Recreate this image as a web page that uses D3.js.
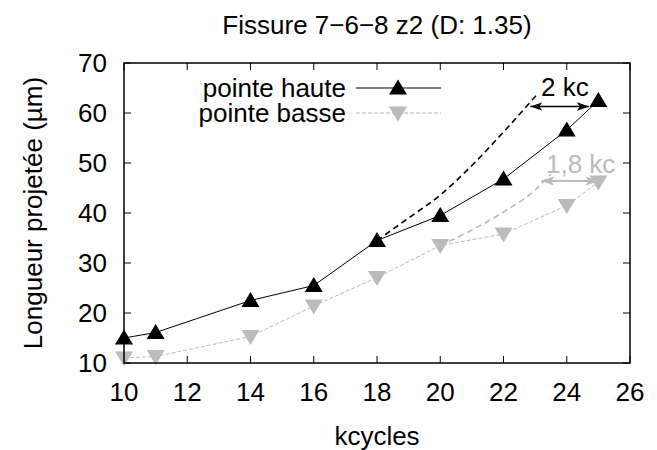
<!DOCTYPE html>
<html>
<head>
<meta charset="utf-8">
<script src="https://cdn.jsdelivr.net/npm/d3@7"></script>
<style>
  body { margin: 0; background: #fff; }
  svg { font-family: "Liberation Sans", Arial, sans-serif; }
</style>
</head>
<body>
<div id="vis"></div>
<script>
// data
const kcycles = [10, 11, 14, 16, 18, 20, 22, 24, 25];
const hauteValues = [15.0, 16.1, 22.5, 25.5, 34.5, 39.5, 46.8, 56.6, 62.5];
const basseValues = [11.0, 11.3, 15.3, 21.4, 27.1, 33.5, 35.8, 41.5, 46.2];

// extrapolated (dashed) curves
const hauteExtraX = [18, 19, 20, 21, 22, 23.1];
const hauteExtraY = [34.5, 39.0, 43.6, 49.5, 56.2, 64.0];
const basseExtraX = [20, 21, 22, 23, 23.5];
const basseExtraY = [33.5, 36.6, 40.2, 44.6, 47.8];

// shift arrows: [x1, x2, y]
const hauteArrow = [22.85, 24.7, 61.3];
const basseArrow = [23.2, 25.0, 46.4];

const xTicks = [10, 12, 14, 16, 18, 20, 22, 24, 26];
const yTicks = [10, 20, 30, 40, 50, 60, 70];

const title = "Fissure 7\u22126\u22128 z2 (D: 1.35)";
const seriesNames = ["pointe haute", "pointe basse"];

const width = 657, height = 450;
const margin = { top: 63, right: 27, bottom: 87, left: 124 };
const fs = 26;

const svg = d3.select("#vis").append("svg")
  .attr("width", width)
  .attr("height", height);

const x = d3.scaleLinear().domain([10, 26]).range([margin.left, width - margin.right]);
const y = d3.scaleLinear().domain([10, 70]).range([height - margin.bottom, margin.top]);

const defs = svg.append("defs");
function marker(id, color, w) {
  const m = defs.append("marker")
    .attr("id", id)
    .attr("viewBox", "0 0 10 10")
    .attr("refX", 10).attr("refY", 5)
    .attr("markerWidth", w).attr("markerHeight", w)
    .attr("markerUnits", "userSpaceOnUse")
    .attr("orient", "auto-start-reverse");
  m.append("path").attr("d", "M0,1.5 L10,5 L0,8.5 L2.5,5 Z").attr("fill", color);
}
marker("arrowBlack", "#000", 12);
marker("arrowGray", "#bbbbbb", 13);

// ticks (inside, mirrored)
const tl = 7;
xTicks.forEach(t => {
  svg.append("line").attr("x1", x(t)).attr("x2", x(t))
    .attr("y1", y(10)).attr("y2", y(10) - tl).attr("stroke", "#000");
  svg.append("line").attr("x1", x(t)).attr("x2", x(t))
    .attr("y1", y(70)).attr("y2", y(70) + tl).attr("stroke", "#000");
});
yTicks.forEach(t => {
  svg.append("line").attr("x1", x(10)).attr("x2", x(10) + tl)
    .attr("y1", y(t)).attr("y2", y(t)).attr("stroke", "#000");
  svg.append("line").attr("x1", x(26)).attr("x2", x(26) - tl)
    .attr("y1", y(t)).attr("y2", y(t)).attr("stroke", "#000");
});

// tick labels
svg.append("g").selectAll("text").data(xTicks).join("text")
  .attr("x", d => x(d)).attr("y", y(10) + 38)
  .attr("text-anchor", "middle").attr("font-size", fs)
  .text(d => d);
svg.append("g").selectAll("text").data(yTicks).join("text")
  .attr("x", x(10) - 17).attr("y", d => y(d) + 9)
  .attr("text-anchor", "end").attr("font-size", fs)
  .text(d => d);

// axis titles
svg.append("text")
  .attr("x", (x(10) + x(26)) / 2).attr("y", 445)
  .attr("text-anchor", "middle").attr("font-size", fs)
  .text("kcycles");
svg.append("text")
  .attr("transform", `translate(42,${(y(10) + y(70)) / 2}) rotate(-90)`)
  .attr("text-anchor", "middle").attr("font-size", fs)
  .text("Longueur projetée (µm)");
svg.append("text")
  .attr("x", (x(10) + x(26)) / 2).attr("y", 34)
  .attr("text-anchor", "middle").attr("font-size", fs)
  .text(title);

const line = d3.line().x(d => x(d[0])).y(d => y(d[1]));
const haute = kcycles.map((k, i) => [k, hauteValues[i]]);
const basse = kcycles.map((k, i) => [k, basseValues[i]]);

// extrapolation curves
const smooth = d3.line().x(d => x(d[0])).y(d => y(d[1])).curve(d3.curveMonotoneX);
svg.append("path")
  .attr("d", smooth(basseExtraX.map((k, i) => [k, basseExtraY[i]])))
  .attr("fill", "none").attr("stroke", "#bbbbbb").attr("stroke-width", 1.6)
  .attr("stroke-dasharray", "6,4");
svg.append("path")
  .attr("d", smooth(hauteExtraX.map((k, i) => [k, hauteExtraY[i]])))
  .attr("fill", "none").attr("stroke", "#000").attr("stroke-width", 1.6)
  .attr("stroke-dasharray", "6,4");

// series lines
svg.append("path").attr("d", line(basse))
  .attr("fill", "none").attr("stroke", "#bbbbbb").attr("stroke-width", 1)
  .attr("stroke-dasharray", "4,2");
svg.append("path").attr("d", line(haute))
  .attr("fill", "none").attr("stroke", "#000").attr("stroke-width", 1);

// markers
const tri = "M0,-8.5 L9,6.5 L-9,6.5 Z";
const triDown = "M0,8.5 L9,-6.5 L-9,-6.5 Z";
svg.append("g").selectAll("path").data(basse).join("path")
  .attr("d", triDown)
  .attr("transform", d => `translate(${x(d[0])},${y(d[1])})`)
  .attr("fill", "#bbbbbb");
svg.append("g").selectAll("path").data(haute).join("path")
  .attr("d", tri)
  .attr("transform", d => `translate(${x(d[0])},${y(d[1])})`)
  .attr("fill", "#000");

// shift arrows and labels
svg.append("line")
  .attr("x1", x(basseArrow[0])).attr("x2", x(basseArrow[1]))
  .attr("y1", y(basseArrow[2])).attr("y2", y(basseArrow[2]))
  .attr("stroke", "#bbbbbb").attr("stroke-width", 2.2)
  .attr("marker-start", "url(#arrowGray)").attr("marker-end", "url(#arrowGray)");
svg.append("text")
  .attr("x", 546).attr("y", 173)
  .attr("font-size", fs).attr("fill", "#bbbbbb")
  .text("1,8 kc");
svg.append("line")
  .attr("x1", x(hauteArrow[0])).attr("x2", x(hauteArrow[1]))
  .attr("y1", y(hauteArrow[2])).attr("y2", y(hauteArrow[2]))
  .attr("stroke", "#000").attr("stroke-width", 1.3)
  .attr("marker-start", "url(#arrowBlack)").attr("marker-end", "url(#arrowBlack)");
svg.append("text")
  .attr("x", 541).attr("y", 96)
  .attr("font-size", fs).attr("fill", "#000")
  .text("2 kc");

// legend
const legend = svg.append("g");
[[seriesNames[0], 88, "#000", null, tri], [seriesNames[1], 113, "#bbbbbb", "4,2", triDown]].forEach(([name, ly, col, dash, shape]) => {
  legend.append("text").attr("x", 346).attr("y", ly + 9)
    .attr("text-anchor", "end").attr("font-size", fs).text(name);
  legend.append("line").attr("x1", 356).attr("x2", 441)
    .attr("y1", ly).attr("y2", ly)
    .attr("stroke", col).attr("stroke-width", 1)
    .attr("stroke-dasharray", dash);
  legend.append("path").attr("d", shape)
    .attr("transform", `translate(398,${ly})`).attr("fill", col);
});

// frame
svg.append("rect")
  .attr("x", x(10)).attr("y", y(70))
  .attr("width", x(26) - x(10)).attr("height", y(10) - y(70))
  .attr("fill", "none").attr("stroke", "#000").attr("stroke-width", 1.5);
</script>
</body>
</html>
